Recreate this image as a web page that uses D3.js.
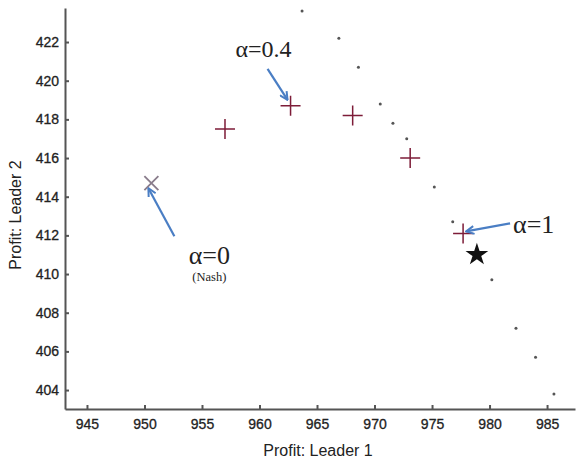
<!DOCTYPE html>
<meta charset="utf-8">
<title>Profit: Leader 1 vs Leader 2</title>
<style>
body { margin: 0; background: #fff; }
svg { display: block; }
.axis path, .axis line { stroke: #555; stroke-width: 2; }
.axis text { font-family: Arial, "Liberation Sans", sans-serif; font-size: 14px; fill: #222; stroke: #222; stroke-width: 0.3; }
.label { font-family: Arial, "Liberation Sans", sans-serif; font-size: 16px; fill: #222; }
.alpha { font-family: "Liberation Serif", "DejaVu Serif", serif; fill: #222; }
</style>
<body></body>
<script src="https://d3js.org/d3.v7.min.js"></script>
<script>
// pareto frontier samples (small dots)
var frontX = [963.7, 966.9, 968.6, 970.5, 971.6, 972.8, 975.2, 976.8, 980.2, 982.3, 984.0, 985.6];
var frontY = [423.6, 422.2, 420.7, 418.8, 417.8, 417.0, 414.5, 412.7, 409.7, 407.2, 405.7, 403.8];

// alpha solutions (plus markers)
var alphas = [0.2, 0.4, 0.6, 0.8, 1];
var crossX = [957.0, 962.7, 968.1, 973.1, 977.7];
var crossY = [417.5, 418.7, 418.2, 416.0, 412.1];

// nash point and star
var nashX = [950.6], nashY = [414.7];
var starX = [978.9], starY = [411.0];

var xTicks = [945, 950, 955, 960, 965, 970, 975, 980, 985];
var yTicks = [404, 406, 408, 410, 412, 414, 416, 418, 420, 422];

var width = 581, height = 462;

var x = d3.scaleLinear().domain([943.09, 987.43]).range([65, 575]);
var y = d3.scaleLinear().domain([403.02, 423.76]).range([409, 8]);

var svg = d3.select('body').append('svg')
  .attr('width', width)
  .attr('height', height);

svg.append('defs').append('marker')
  .attr('id', 'arrow')
  .attr('viewBox', '0 0 10 10')
  .attr('refX', 9).attr('refY', 5)
  .attr('markerWidth', 4.5).attr('markerHeight', 4.5)
  .attr('orient', 'auto')
  .append('path')
  .attr('d', 'M1,1 L9,5 L1,9')
  .attr('fill', 'none')
  .attr('stroke', '#4a7ec4')
  .attr('stroke-width', 2);

svg.append('g')
  .attr('class', 'axis')
  .attr('transform', 'translate(0,409)')
  .call(d3.axisBottom(x).tickValues(xTicks).tickSizeInner(-4).tickSizeOuter(0).tickPadding(10));

svg.append('g')
  .attr('class', 'axis')
  .attr('transform', 'translate(65,0)')
  .call(d3.axisLeft(y).tickValues(yTicks).tickSizeInner(-4).tickSizeOuter(0).tickPadding(6));

svg.append('text')
  .attr('class', 'label')
  .attr('x', 318).attr('y', 456)
  .attr('text-anchor', 'middle')
  .text('Profit: Leader 1');

svg.append('text')
  .attr('class', 'label')
  .attr('transform', 'translate(21,215) rotate(-90)')
  .attr('text-anchor', 'middle')
  .text('Profit: Leader 2');

// frontier dots
svg.selectAll('.dot')
  .data(frontX)
  .enter().append('circle')
  .attr('class', 'dot')
  .attr('cx', function (d) { return x(d); })
  .attr('cy', function (d, i) { return y(frontY[i]); })
  .attr('r', 1.5)
  .attr('fill', '#555');

// plus markers
svg.selectAll('.plus')
  .data(crossX)
  .enter().append('path')
  .attr('class', 'plus')
  .attr('transform', function (d, i) { return 'translate(' + x(d) + ',' + y(crossY[i]) + ')'; })
  .attr('d', 'M-10,0 H10 M0,-10 V10')
  .attr('stroke', '#7d1c38')
  .attr('stroke-width', 1.5)
  .attr('fill', 'none');

// nash x marker
svg.selectAll('.nash')
  .data(nashX)
  .enter().append('path')
  .attr('class', 'nash')
  .attr('transform', function (d, i) { return 'translate(' + x(d) + ',' + y(nashY[i]) + ')'; })
  .attr('d', 'M-7,-7 L7,7 M-7,7 L7,-7')
  .attr('stroke', '#8a7d8c')
  .attr('stroke-width', 1.8)
  .attr('fill', 'none');

// star
svg.selectAll('.star')
  .data(starX)
  .enter().append('path')
  .attr('class', 'star')
  .attr('transform', function (d, i) { return 'translate(' + x(d) + ',' + y(starY[i]) + ')'; })
  .attr('d', d3.symbol().type(d3.symbolStar).size(160))
  .attr('fill', '#111');

// annotations
function arrow(x1, y1, x2, y2) {
  svg.append('line')
    .attr('x1', x1).attr('y1', y1).attr('x2', x2).attr('y2', y2)
    .attr('stroke', '#4a7ec4')
    .attr('stroke-width', 2.2)
    .attr('marker-end', 'url(#arrow)');
}

var p04 = [x(crossX[1]), y(crossY[1])];
arrow(p04[0] - 23, p04[1] - 37, p04[0] - 3, p04[1] - 6);
svg.append('text').attr('class', 'alpha')
  .attr('x', p04[0] - 27).attr('y', p04[1] - 49)
  .attr('text-anchor', 'middle').style('font-size', '24px')
  .text('\u03b1=0.4');

var pn = [x(nashX[0]), y(nashY[0])];
arrow(pn[0] + 23, pn[1] + 53, pn[0] - 3, pn[1] + 5);
svg.append('text').attr('class', 'alpha')
  .attr('x', pn[0] + 58).attr('y', pn[1] + 81)
  .attr('text-anchor', 'middle').style('font-size', '26px')
  .text('\u03b1=0');
svg.append('text').attr('class', 'alpha')
  .attr('x', pn[0] + 58).attr('y', pn[1] + 98)
  .attr('text-anchor', 'middle').style('font-size', '12.5px')
  .text('(Nash)');

var p1 = [x(crossX[4]), y(crossY[4])];
arrow(p1[0] + 47, p1[1] - 10, p1[0] + 3, p1[1] - 2);
svg.append('text').attr('class', 'alpha')
  .attr('x', p1[0] + 50).attr('y', p1[1])
  .style('font-size', '26px')
  .text('\u03b1=1');
</script>
